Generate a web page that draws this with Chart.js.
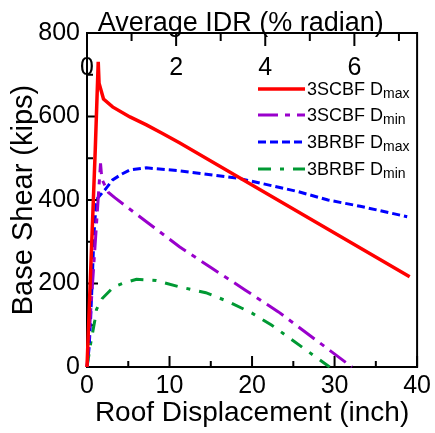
<!DOCTYPE html>
<html><head><meta charset="utf-8">
<script src="https://cdn.jsdelivr.net/npm/chart.js@4/dist/chart.umd.min.js"></script>
<style>html,body{margin:0;padding:0;background:#fff;}#wrap{width:435px;height:433px;}</style>
</head><body><div id="wrap"><canvas id="c" width="435" height="433"></canvas></div>
<script>
const FONT = "'Liberation Sans', Arial, Helvetica, sans-serif";

// tick values
const xTicks = [0, 10, 20, 30, 40];
const xMinorTicks = [5, 15, 25, 35];
const yTicks = [0, 200, 400, 600, 800];
const yMinorTicks = [100, 300, 500, 700];
const idrTicks = [0, 2, 4, 6];
const idrMinorTicks = [1, 3, 5, 7];
const inchPerIdr = 5.4; // 1 % radian of average IDR = 5.4 in roof displacement

// series names (main text + subscript)
const seriesNames = ['3SCBF D', '3SCBF D', '3BRBF D', '3BRBF D'];
const seriesSubs = ['max', 'min', 'max', 'min'];

// 3SCBF Dmax
const scbfMaxX = [0, 1.0, 1.36, 1.46, 2.0, 3.1, 5.2, 7.2, 9.1, 11.2, 39.1];
const scbfMaxY = [0, 520, 731, 680, 642, 623, 599, 580, 560, 537, 216];
// 3SCBF Dmin
const scbfMinX = [0, 1.64, 1.8, 2.6, 3.4, 7.2, 11.2, 15.1, 19.2, 23.2, 32.1];
const scbfMinY = [0, 488, 450, 418, 405, 348, 288, 237, 184, 132, 0];
// 3BRBF Dmax
const brbfMaxX = [0, 0.25, 0.45, 0.65, 0.85, 1.1, 1.3, 2.2, 3.1, 4.2, 5.2, 7.2, 11.2, 18.4, 25.6, 29.2, 33.1, 38.8];
const brbfMaxY = [0, 45, 120, 215, 320, 390, 405, 425, 448, 462, 472, 477, 470, 452, 420, 400, 385, 360];
// 3BRBF Dmin
const brbfMinX = [0, 0.45, 0.95, 1.15, 1.84, 3.24, 4.3, 6.0, 8.4, 11.2, 14.4, 17.2, 20, 22.4, 29.4];
const brbfMinY = [0, 57, 112, 138, 164, 192, 200, 210, 207, 192, 178, 156, 129, 100, 0];

const colors = ['#ff0000', '#9900cc', '#0000ff', '#009933'];
const widths = [3.5, 3, 3, 3];
const dashes = [[], [20, 7, 5, 7], [8, 4], [13, 9, 4, 9]];
const xs = [scbfMaxX, scbfMinX, brbfMaxX, brbfMinX];
const ys = [scbfMaxY, scbfMinY, brbfMaxY, brbfMinY];

const datasets = xs.map((xa, i) => ({
  label: seriesNames[i] + seriesSubs[i],
  data: xa.map((x, j) => ({x: x, y: ys[i][j]})),
  borderColor: colors[i],
  borderWidth: widths[i],
  borderDash: dashes[i],
  borderCapStyle: 'butt',
  pointRadius: 0,
  fill: false,
  tension: 0,
  clip: false
}));

const setTicks = arr => (s => { s.ticks = arr.map(v => ({value: v})); });

const frame = {
  id: 'frame',
  beforeDatasetsDraw(chart) {
    const ctx = chart.ctx, a = chart.chartArea;
    const sx = chart.scales.x, sy = chart.scales.y, st = chart.scales.x2;
    ctx.save();
    // top-axis tick labels, placed inside the plot area
    ctx.fillStyle = '#000';
    ctx.font = '25px ' + FONT;
    ctx.textAlign = 'center';
    ctx.textBaseline = 'middle';
    idrTicks.forEach(v => { ctx.fillText(String(v), st.getPixelForValue(v), a.top + 35); });
    ctx.strokeStyle = '#000';
    ctx.lineWidth = 2;
    ctx.strokeRect(a.left, a.top, a.right - a.left, a.bottom - a.top);
    const tick = (x1, y1, x2, y2) => { ctx.beginPath(); ctx.moveTo(x1, y1); ctx.lineTo(x2, y2); ctx.stroke(); };
    const MAJ = 11, MIN = 6;
    xTicks.forEach(v => { const p = sx.getPixelForValue(v); tick(p, a.bottom, p, a.bottom - MAJ); });
    xMinorTicks.forEach(v => { const p = sx.getPixelForValue(v); tick(p, a.bottom, p, a.bottom - MIN); });
    yTicks.forEach(v => { const p = sy.getPixelForValue(v); tick(a.left, p, a.left + MAJ, p); });
    yMinorTicks.forEach(v => { const p = sy.getPixelForValue(v); tick(a.left, p, a.left + MIN, p); });
    idrTicks.forEach(v => { const p = st.getPixelForValue(v); tick(p, a.top, p, a.top + MAJ + 2); });
    idrMinorTicks.forEach(v => { const p = st.getPixelForValue(v); tick(p, a.top, p, a.top + MIN + 2); });
    ctx.restore();
  }
};

const customLegend = {
  id: 'customLegend',
  afterDraw(chart) {
    const ctx = chart.ctx;
    const x0 = 258, x1 = 305, tx = 307;
    const rows = [89, 115, 142, 169];
    chart.data.datasets.forEach((ds, i) => {
      const y = rows[i];
      ctx.save();
      ctx.strokeStyle = ds.borderColor;
      ctx.lineWidth = ds.borderWidth;
      ctx.lineCap = 'butt';
      ctx.setLineDash(ds.borderDash || []);
      ctx.beginPath(); ctx.moveTo(x0, y); ctx.lineTo(x1, y); ctx.stroke();
      ctx.setLineDash([]);
      ctx.fillStyle = '#000';
      ctx.textBaseline = 'alphabetic';
      ctx.textAlign = 'left';
      ctx.font = '18px ' + FONT;
      ctx.fillText(seriesNames[i], tx, y + 6);
      const w = ctx.measureText(seriesNames[i]).width;
      ctx.font = '14px ' + FONT;
      ctx.fillText(seriesSubs[i], tx + w, y + 9);
      ctx.restore();
    });
  }
};

new Chart(document.getElementById('c'), {
  type: 'line',
  data: {datasets: datasets},
  options: {
    responsive: false,
    animation: false,
    devicePixelRatio: 1,
    layout: {padding: {left: 0, right: 15, top: 0, bottom: 0}},
    plugins: {legend: {display: false}, tooltip: {enabled: false}},
    scales: {
      x: {
        type: 'linear', position: 'bottom', min: 0, max: 40,
        afterBuildTicks: setTicks(xTicks),
        afterFit: s => { s.height = 66; },
        grid: {display: false, drawTicks: false},
        border: {display: false},
        ticks: {font: {family: FONT, size: 25}, color: '#000', padding: 4, maxRotation: 0, autoSkip: false},
        title: {display: true, text: 'Roof Displacement (inch)', font: {family: FONT, size: 28}, color: '#000', padding: {top: 0, bottom: 3}}
      },
      x2: {
        type: 'linear', position: 'top', min: 0, max: 40 / inchPerIdr,
        afterBuildTicks: setTicks(idrTicks),
        afterFit: s => { s.height = 33; },
        grid: {display: false, drawTicks: false},
        border: {display: false},
        ticks: {display: false},
        title: {display: true, text: 'Average IDR (% radian)   ', font: {family: FONT, size: 27}, color: '#000', padding: {top: 7, bottom: 0}}
      },
      y: {
        type: 'linear', position: 'left', min: 0, max: 800,
        afterBuildTicks: setTicks(yTicks),
        afterFit: s => { s.width = 87; },
        grid: {display: false, drawTicks: false},
        border: {display: false},
        ticks: {font: {family: FONT, size: 25}, color: '#000', padding: 7, autoSkip: false},
        title: {display: true, text: 'Base Shear (kips)', font: {family: FONT, size: 29}, color: '#000', padding: {top: 7, bottom: 0}}
      }
    }
  },
  plugins: [frame, customLegend]
});
</script>
</body></html>
